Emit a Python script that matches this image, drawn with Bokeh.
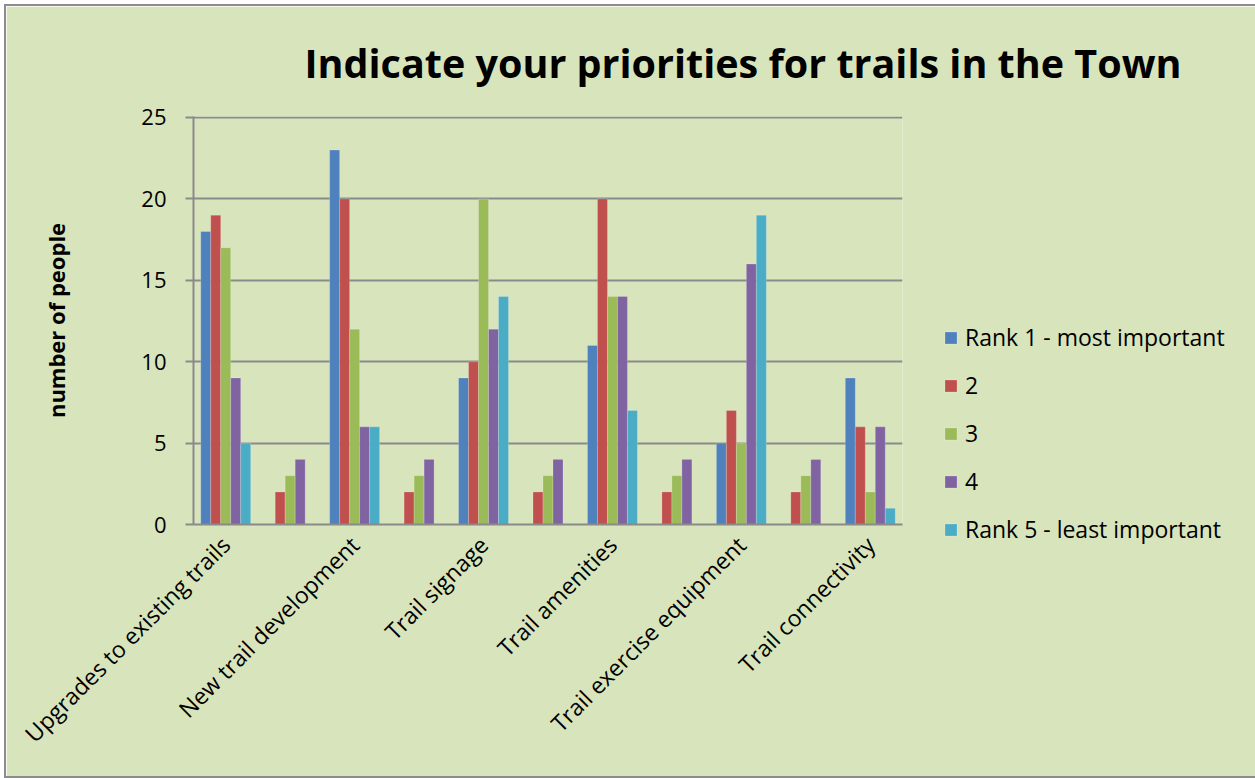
import math
from bokeh.plotting import figure
from bokeh.models import FixedTicker, Legend, LegendItem, Range1d
from bokeh.embed import file_html
from bokeh.resources import INLINE

# ---- data ----
categories = ["Upgrades to existing trails", "", "New trail development", "",
              "Trail signage", "", "Trail amenities", "",
              "Trail exercise equipment", "", "Trail connectivity"]
series_names = ["Rank 1 - most important", "2", "3", "4", "Rank 5 - least important"]
rank1 = [18, 0, 23, 0, 9, 0, 11, 0, 5, 0, 9]
rank2 = [19, 2, 20, 2, 10, 2, 20, 2, 7, 2, 6]
rank3 = [17, 3, 12, 3, 20, 3, 14, 3, 5, 3, 2]
rank4 = [9, 4, 6, 4, 12, 4, 14, 4, 16, 4, 6]
rank5 = [5, 0, 6, 0, 14, 0, 7, 0, 19, 0, 1]
y_ticks = [0, 5, 10, 15, 20, 25]
title_text = "Indicate your priorities for trails in the Town"
y_label = "number of people"

series = [rank1, rank2, rank3, rank4, rank5]
colors = ["#4F81BD", "#C0504D", "#9BBB59", "#8064A2", "#4BACC6"]

BG = "#D8E4BC"
GRID = "#8A8A8A"
FONT = "Open Sans"

n = len(categories)
p = figure(frame_width=709, frame_height=408, output_backend="svg", toolbar_location=None,
           x_range=Range1d(-0.5, n - 0.5), y_range=Range1d(0, 25.06),
           min_border_left=187, min_border_right=0, min_border_top=110,
           min_border_bottom=252,
           background_fill_color=BG, border_fill_color=BG, outline_line_color=None)
p.styles = {"border": "2px solid #8C8C8C", "margin": "4px 0px 0px 4px"}

# title
p.title.text = title_text
p.title.text_font = FONT
p.title.text_font_size = "39.5px"
p.title.text_font_style = "bold"
p.title.text_color = "#000000"
p.title.align = "left"
p.title.offset = 111
p.title.standoff = 53

bw = 0.155
items = []
xs = list(range(n))
for k, (vals, name, col) in enumerate(zip(series, series_names, colors)):
    off = (k - 2) * bw
    r = p.vbar(x=[x + off for x in xs], top=vals, width=bw, bottom=0,
               fill_color=col, line_color="white", line_alpha=0.2, line_width=1)
    items.append(LegendItem(label=name, renderers=[r]))

# axes
p.xgrid.grid_line_color = None
p.ygrid.grid_line_color = GRID
p.ygrid.grid_line_width = 2
p.ygrid.ticker = FixedTicker(ticks=y_ticks)

p.yaxis.ticker = FixedTicker(ticks=y_ticks)
p.yaxis.axis_line_color = GRID
p.yaxis.axis_line_width = 2
p.yaxis.major_tick_line_color = GRID
p.yaxis.major_tick_line_width = 2
p.yaxis.major_tick_out = 8
p.yaxis.major_tick_in = 0
p.yaxis.minor_tick_line_color = None
p.yaxis.major_label_text_font = FONT
p.yaxis.major_label_text_font_size = "22px"
p.yaxis.major_label_text_color = "#000000"
p.yaxis.major_label_standoff = 19
p.yaxis.axis_label = y_label
p.yaxis.axis_label_text_font = FONT
p.yaxis.axis_label_text_font_size = "22px"
p.yaxis.axis_label_text_font_style = "bold"
p.yaxis.axis_label_text_color = "#000000"
p.yaxis.axis_label_standoff = 67

p.xaxis.ticker = FixedTicker(ticks=xs)
p.xaxis.major_label_overrides = {i: c for i, c in enumerate(categories)}
p.xaxis.axis_line_color = GRID
p.xaxis.axis_line_width = 2
p.xaxis.major_tick_line_color = None
p.xaxis.minor_tick_line_color = None
p.xaxis.major_label_orientation = math.pi / 4
p.xaxis.major_label_text_font = FONT
p.xaxis.major_label_text_font_size = "23px"
p.xaxis.major_label_text_color = "#000000"
p.xaxis.major_label_standoff = 10

legend = Legend(items=items, location=(41, -21), padding=0, spacing=16, margin=0,
                glyph_width=15, glyph_height=15, label_standoff=7,
                label_text_font=FONT, label_text_font_size="23px",
                label_text_color="#000000",
                border_line_color=None, background_fill_alpha=0)
p.add_layout(legend, "right")

open("out.html", "w").write(file_html(p, INLINE))
